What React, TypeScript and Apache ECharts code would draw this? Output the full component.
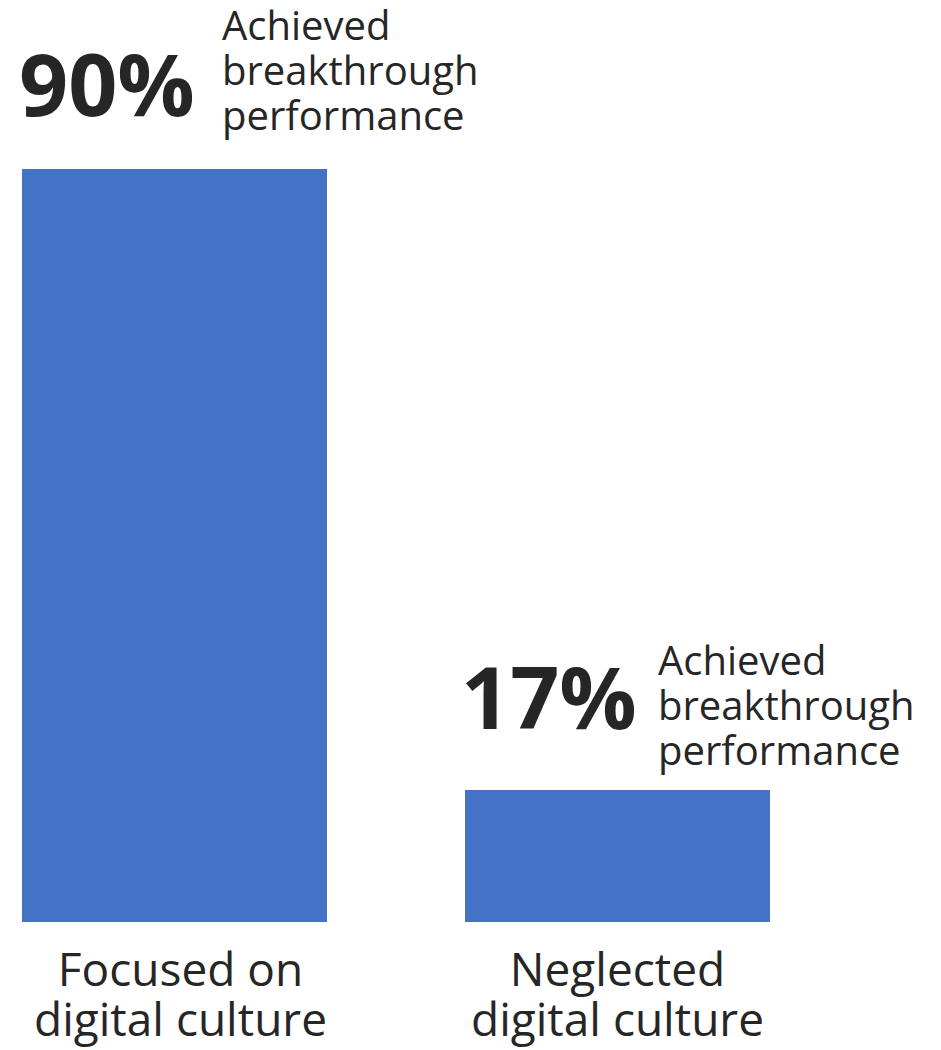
import React, { useEffect, useRef } from "react";
import * as echarts from "echarts";

const categories = ["Focused on\ndigital culture", "Neglected\ndigital culture"];
const values = [90, 17];
const descriptions = ["Achieved\nbreakthrough\nperformance", "Achieved\nbreakthrough\nperformance"];

const FONT = "'Open Sans', 'Noto Sans', sans-serif";
const TEXT = "#262626";
const BLUE = "#4472C4";

// label offsets relative to each bar's top-left corner
const pctPos: [number, number][] = [[-3, -130], [-4, -138]];
const descPos: [number, number][] = [[200, -167], [193, -153]];
const catPad: number[][] = [[0, 0, 0, 12], [0, 0, 0, 0]];

export default function App() {
  const ref = useRef<HTMLDivElement>(null);
  useEffect(() => {
    if (!ref.current) return;
    const chart = echarts.init(ref.current, undefined, { renderer: "svg" });
    chart.setOption({
      animation: false,
      backgroundColor: "#ffffff",
      grid: {
        left: -47,
        width: 886,
        top: 169,
        height: 753,
        containLabel: false,
        outerBoundsMode: "none",
      },
      xAxis: {
        type: "category",
        data: categories.map((c, i) => ({ value: c, textStyle: { padding: catPad[i] } })),
        axisLine: { show: false },
        axisTick: { show: false },
        splitLine: { show: false },
        axisLabel: {
          margin: 21,
          color: TEXT,
          fontFamily: FONT,
          fontSize: 46,
          lineHeight: 50,
          verticalAlign: "top",
          interval: 0,
        },
      },
      yAxis: { type: "value", min: 1.5, max: 90, show: false, splitLine: { show: false } },
      series: [
        {
          type: "bar",
          barWidth: 305,
          barGap: "-100%",
          clip: true,
          itemStyle: { color: BLUE },
          data: values.map((v, i) => ({
            value: v,
            label: {
              show: true,
              position: pctPos[i],
              formatter: "{c}%",
              align: "left",
              verticalAlign: "top",
              color: TEXT,
              fontFamily: FONT,
              fontWeight: "bold",
              fontSize: 86,
              lineHeight: 86,
            },
          })),
        },
        {
          type: "bar",
          barWidth: 305,
          barGap: "-100%",
          clip: true,
          silent: true,
          itemStyle: { color: "rgba(0,0,0,0)" },
          data: values.map((v, i) => ({
            value: v,
            label: {
              show: true,
              position: descPos[i],
              formatter: descriptions[i],
              align: "left",
              verticalAlign: "top",
              color: TEXT,
              fontFamily: FONT,
              fontSize: 40,
              lineHeight: 45,
            },
          })),
        },
      ],
    });
    return () => chart.dispose();
  }, []);
  return (
    <div
      ref={ref}
      style={{ position: "absolute", left: 0, top: 0, width: 941, height: 1050 }}
    />
  );
}
